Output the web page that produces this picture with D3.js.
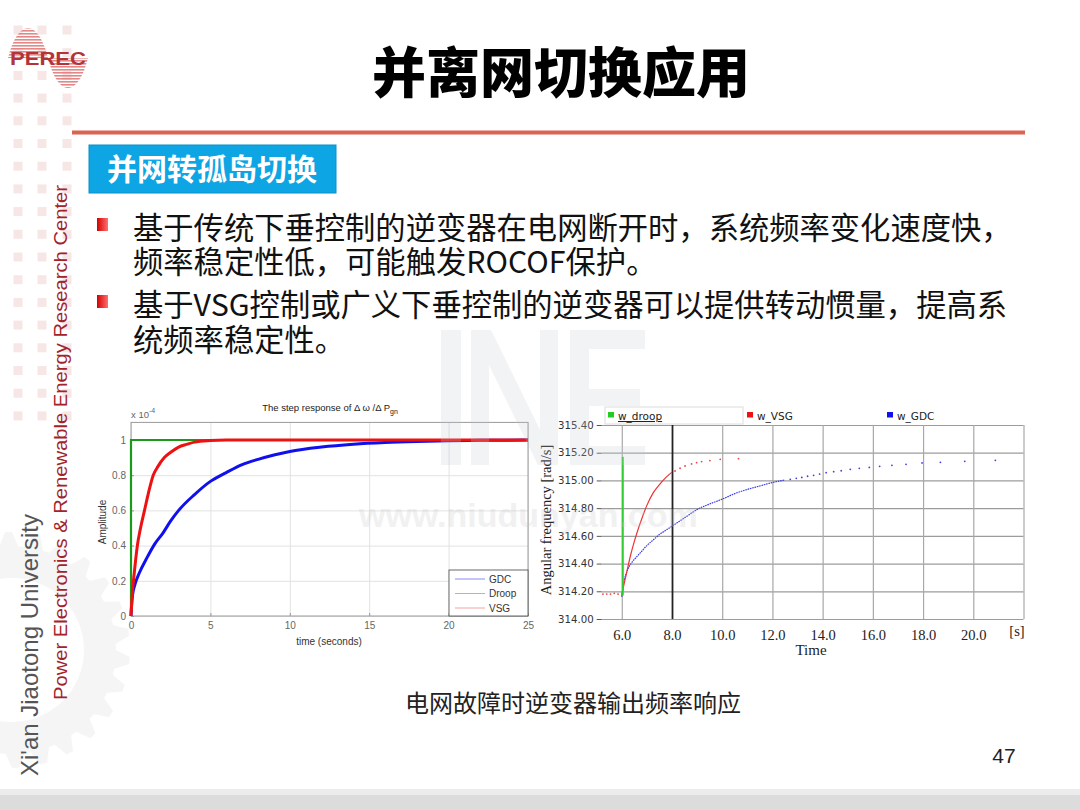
<!DOCTYPE html>
<html><head><meta charset="utf-8">
<script src="https://cdn.jsdelivr.net/npm/d3@7"></script>
<style>body{margin:0;background:#fff}svg{display:block}</style>
</head><body><svg id="c" width="1080" height="810"></svg>
<script>
// ---------------- DATA ----------------
const slideTitle = "并离网切换应用";
const sectionLabel = "并网转孤岛切换";
const bulletLines = [
  ["基于传统下垂控制的逆变器在电网断开时，系统频率变化速度快，", "频率稳定性低，可能触发ROCOF保护。"],
  ["基于VSG控制或广义下垂控制的逆变器可以提供转动惯量，提高系", "统频率稳定性。"]
];
const captionText = "电网故障时逆变器输出频率响应";
const pageNumber = "47";

// Left chart: step response (amplitude x 1e-4)
const stepTicksX = [0, 5, 10, 15, 20, 25];
const stepTicksY = [0, 0.2, 0.4, 0.6, 0.8, 1];
const stepTickLabelsY = ["0", "0.2", "0.4", "0.6", "0.8", "1"];
const stepSeries = ["GDC", "Droop", "VSG"];
const gdcTime = [0, 0.05, 0.1, 0.25, 0.5, 1, 1.5, 2, 2.5, 3, 4, 5, 6, 7, 8, 9, 10, 12, 14, 16, 18, 20, 22, 25];
const gdcAmp  = [0, 0.08, 0.12, 0.18, 0.24, 0.33, 0.41, 0.47, 0.54, 0.6, 0.69, 0.765, 0.815, 0.86, 0.89, 0.915, 0.935, 0.96, 0.976, 0.986, 0.992, 0.996, 0.998, 1.0];
const droopTime = [0, 0, 25];
const droopAmp  = [0, 1, 1];
const vsgTime = [0, 0.1, 0.2, 0.4, 0.6, 0.85, 1.1, 1.4, 1.7, 2.1, 2.5, 3, 3.5, 4, 5, 6, 25];
const vsgAmp  = [0, 0.15, 0.24, 0.4, 0.5, 0.6, 0.7, 0.8, 0.85, 0.9, 0.93, 0.96, 0.975, 0.988, 0.997, 1, 1];

// Right chart: angular frequency [rad/s] vs time [s]
const freqTicksX = [6, 8, 10, 12, 14, 16, 18, 20];
const freqTicksY = [314.0, 314.2, 314.4, 314.6, 314.8, 315.0, 315.2, 315.4];
const freqSeries = ["w_droop", "w_VSG", "w_GDC"];
const droopFreqTime = [6.0, 6.0];
const droopFreqW    = [314.17, 315.17];
const vsgPreTime = [5.25, 5.4, 5.55, 5.7, 5.85];
const vsgPreW    = [314.18, 314.18, 314.18, 314.185, 314.18];
const vsgFreqTime = [6.0, 6.1, 6.2, 6.35, 6.5, 6.75, 7.0, 7.25, 7.5, 7.75, 8.0];
const vsgFreqW    = [314.17, 314.26, 314.34, 314.46, 314.56, 314.70, 314.82, 314.91, 314.97, 315.02, 315.06];
const vsgDotTime = [8.12, 8.32, 8.52, 8.78, 8.98, 9.18, 9.51, 9.92, 10.65];
const vsgDotW    = [315.068, 315.088, 315.104, 315.119, 315.128, 315.136, 315.143, 315.152, 315.157];
const gdcFreqTime = [6.0, 6.04, 6.1, 6.2, 6.3, 6.45, 6.6, 6.8, 7.0, 7.25, 7.5, 7.75, 8.0, 8.5, 9.0, 9.5, 10.0, 10.5, 11.0, 11.5, 12.0, 12.5];
const gdcFreqW    = [314.16, 314.22, 314.28, 314.34, 314.38, 314.42, 314.45, 314.49, 314.53, 314.57, 314.61, 314.64, 314.67, 314.73, 314.79, 314.83, 314.865, 314.905, 314.935, 314.96, 314.985, 315.003];
const gdcDotTime = [12.71, 12.95, 13.17, 13.40, 13.64, 13.88, 14.14, 14.44, 14.74, 15.10, 15.46, 15.86, 16.27, 16.76, 17.32, 17.96, 18.69, 19.66, 20.88];
const gdcDotW    = [315.008, 315.015, 315.022, 315.030, 315.037, 315.046, 315.056, 315.063, 315.070, 315.080, 315.087, 315.094, 315.102, 315.109, 315.116, 315.126, 315.131, 315.138, 315.145];

// ---------------- DRAW ----------------
const svg = d3.select("#c");
const CJK = "'Noto Sans CJK SC', 'Noto Sans', sans-serif";
const zip = (a, b) => a.map((v, i) => [v, b[i]]);

const defs = svg.append("defs");
const pat = defs.append("pattern").attr("id", "stripes").attr("patternUnits", "userSpaceOnUse")
  .attr("width", 6).attr("height", 3);
pat.append("rect").attr("width", 6).attr("height", 1.6).attr("fill", "#e07a7a");
const bg = defs.append("linearGradient").attr("id", "bul");
bg.append("stop").attr("offset", "0").attr("stop-color", "#d40000");
bg.append("stop").attr("offset", "1").attr("stop-color", "#ff7070");

// ---- background decorations ----
const deco = svg.append("g");
const sqCols = [18, 42, 67];
const sqRows = d3.range(30, 420, 22.7);
sqRows.forEach(r => sqCols.forEach(c => {
  deco.append("rect").attr("x", c - 4.5).attr("y", r - 4.5).attr("width", 9).attr("height", 9).attr("fill", "#f7e6e6");
}));
(function () {
  const cx = 12, cy = 650, ro = 118, ri = 104, n = 26;
  const p = d3.path();
  for (let i = 0; i < n; i++) {
    const a0 = (i / n) * 2 * Math.PI, a1 = ((i + 0.25) / n) * 2 * Math.PI,
          a2 = ((i + 0.5) / n) * 2 * Math.PI, a3 = ((i + 0.75) / n) * 2 * Math.PI;
    const pt = (r, a) => [cx + r * Math.cos(a), cy + r * Math.sin(a)];
    if (i === 0) p.moveTo(...pt(ri, a0)); else p.lineTo(...pt(ri, a0));
    p.lineTo(...pt(ro, a1)); p.lineTo(...pt(ro, a2)); p.lineTo(...pt(ri, a3));
  }
  p.closePath();
  p.moveTo(cx + 72, cy); p.arc(cx, cy, 72, 0, 2 * Math.PI);
  deco.append("path").attr("d", p.toString()).attr("fill", "#9a9a9a").attr("fill-rule", "evenodd").attr("opacity", 0.1);
})();
deco.append("rect").attr("x", 0).attr("y", 789).attr("width", 1080).attr("height", 6).attr("fill", "#ececec");
deco.append("rect").attr("x", 0).attr("y", 795).attr("width", 1080).attr("height", 15).attr("fill", "#dcdcdc");

// logo
const logo = svg.append("g");
logo.append("path").attr("d", "M8,58 C18,18 38,18 48,58 C58,98 78,98 88,58 Z").attr("fill", "url(#stripes)").attr("opacity", 0.9);
logo.append("text").attr("x", 10).attr("y", 65).attr("textLength", 76).attr("lengthAdjust", "spacingAndGlyphs")
  .attr("font-family", "'Liberation Sans', Arial, sans-serif").attr("font-weight", "bold").attr("font-size", 18)
  .attr("fill", "#b3333a").text("PEREC");

// vertical texts
svg.append("text").attr("transform", "translate(38,776) rotate(-90)")
  .attr("font-family", "'Liberation Sans', Arial, sans-serif").attr("font-size", 24).attr("fill", "#555")
  .text("Xi'an Jiaotong University");
svg.append("text").attr("transform", "translate(67,700) rotate(-90)")
  .attr("font-family", "'Liberation Sans', Arial, sans-serif").attr("font-size", 18.2).attr("fill", "#a3232a")
  .attr("textLength", 515).attr("lengthAdjust", "spacingAndGlyphs")
  .text("Power Electronics & Renewable Energy Research Center");

// title
svg.append("text").attr("x", 561).attr("y", 93).attr("text-anchor", "middle")
  .attr("font-family", CJK).attr("font-weight", 900).attr("font-size", 54).attr("fill", "#000").text(slideTitle);
svg.append("rect").attr("x", 72).attr("y", 130.5).attr("width", 953).attr("height", 4).attr("fill", "#dc6252");
svg.append("rect").attr("x", 89).attr("y", 145).attr("width", 247).attr("height", 48).attr("fill", "#0ea5e4")
  .attr("stroke", "#0b90c8").attr("stroke-width", 1);
svg.append("text").attr("x", 212).attr("y", 180).attr("text-anchor", "middle")
  .attr("font-family", CJK).attr("font-weight", "bold").attr("font-size", 30).attr("fill", "#fff").text(sectionLabel);

// bullets
const bulletBase = [[239, 273], [316, 351]];
bulletLines.forEach((lines, i) => {
  svg.append("rect").attr("x", 97).attr("y", bulletBase[i][0] - 21).attr("width", 11).attr("height", 13).attr("fill", "url(#bul)");
  lines.forEach((ln, j) => {
    svg.append("text").attr("x", 133).attr("y", bulletBase[i][j]).attr("font-family", CJK)
      .attr("font-size", 30.3).attr("fill", "#111").text(ln);
  });
});

// ---------- LEFT CHART ----------
(function () {
  const L = 131, R = 528, T = 422.4, B = 616;
  const x = d3.scaleLinear().domain([0, 25]).range([L, R]);
  const y = d3.scaleLinear().domain([0, 1.1]).range([B, T]);
  const g = svg.append("g").attr("font-family", "'Liberation Sans', Arial, sans-serif");
  g.append("g").attr("transform", `translate(0,${B})`)
    .call(d3.axisBottom(x).tickValues(stepTicksX).tickSize(-(B - T)).tickFormat(""))
    .call(a => a.select(".domain").remove())
    .call(a => a.selectAll("line").attr("stroke", "#e2e2e2"));
  g.append("g").attr("transform", `translate(${L},0)`)
    .call(d3.axisLeft(y).tickValues(stepTicksY).tickSize(-(R - L)).tickFormat(""))
    .call(a => a.select(".domain").remove())
    .call(a => a.selectAll("line").attr("stroke", "#e2e2e2"));
  g.append("rect").attr("x", L).attr("y", T).attr("width", R - L).attr("height", B - T)
    .attr("fill", "none").attr("stroke", "#9a9a9a").attr("stroke-width", 1);
  g.append("g").attr("transform", `translate(0,${B})`)
    .call(d3.axisBottom(x).tickValues(stepTicksX).tickSize(-3).tickPadding(6))
    .call(a => a.select(".domain").remove())
    .call(a => a.selectAll("line").attr("stroke", "#9a9a9a"))
    .call(a => a.selectAll("text").attr("fill", "#666").attr("font-size", 10).attr("font-family", "'Liberation Sans', Arial, sans-serif"));
  g.append("g").attr("transform", `translate(${L},0)`)
    .call(d3.axisLeft(y).tickValues(stepTicksY).tickFormat((d, i) => stepTickLabelsY[i]).tickSize(-3).tickPadding(5))
    .call(a => a.select(".domain").remove())
    .call(a => a.selectAll("line").attr("stroke", "#9a9a9a"))
    .call(a => a.selectAll("text").attr("fill", "#666").attr("font-size", 10).attr("font-family", "'Liberation Sans', Arial, sans-serif"));
  const line = d3.line().x(d => x(d[0])).y(d => y(d[1]));
  const smooth = d3.line().x(d => x(d[0])).y(d => y(d[1])).curve(d3.curveMonotoneX);
  g.append("path").attr("d", smooth(zip(gdcTime, gdcAmp))).attr("fill", "none").attr("stroke", "#1010ee").attr("stroke-width", 3);
  g.append("path").attr("d", line(zip(droopTime, droopAmp))).attr("fill", "none").attr("stroke", "#1a9a1a").attr("stroke-width", 2.2);
  g.append("path").attr("d", smooth(zip(vsgTime, vsgAmp))).attr("fill", "none").attr("stroke", "#ee1111").attr("stroke-width", 3);
  const lg = g.append("g");
  lg.append("rect").attr("x", 449).attr("y", 570).attr("width", 79).attr("height", 46).attr("fill", "#fff").attr("stroke", "#444").attr("stroke-width", 0.8);
  const lcol = ["#8a8af5", "#8fd08f", "#f5a0a0"];
  stepSeries.forEach((s, i) => {
    const yy = 579 + i * 14.5;
    lg.append("line").attr("x1", 455).attr("x2", 485).attr("y1", yy).attr("y2", yy).attr("stroke", lcol[i]).attr("stroke-width", 1);
    lg.append("text").attr("x", 489).attr("y", yy + 3.5).attr("font-size", 10).attr("fill", "#333").text(s);
  });
  const t = g.append("text").attr("x", 330).attr("y", 411).attr("text-anchor", "middle").attr("font-size", 9.5).attr("fill", "#222");
  t.append("tspan").text("The step response of Δ ω /Δ P");
  t.append("tspan").attr("dy", 3).attr("font-size", 7).text("gn");
  const ex = g.append("text").attr("x", 131).attr("y", 418).attr("font-size", 9.5).attr("fill", "#666");
  ex.append("tspan").text("x 10");
  ex.append("tspan").attr("dy", -5).attr("font-size", 7).text("-4");
  g.append("text").attr("x", 329).attr("y", 645).attr("text-anchor", "middle").attr("font-size", 10).attr("fill", "#333").text("time (seconds)");
  g.append("text").attr("transform", "translate(106,522) rotate(-90)").attr("text-anchor", "middle").attr("font-size", 10).attr("fill", "#333").text("Amplitude");
})();

// ---------- RIGHT CHART ----------
(function () {
  const L = 601.7, R = 1023.5, T = 425, B = 619;
  const x = d3.scaleLinear().domain([5.2, 22]).range([L, R]);
  const y = d3.scaleLinear().domain([314.0, 315.4]).range([B, T]);
  const g = svg.append("g");
  g.append("g").attr("transform", `translate(${L},0)`)
    .call(d3.axisLeft(y).tickValues(freqTicksY).tickSize(-(R - L)).tickFormat(""))
    .call(a => a.select(".domain").remove())
    .call(a => a.selectAll("line").attr("stroke", "#9c9c9c").attr("stroke-width", 1.2));
  g.append("g").attr("transform", `translate(0,${B})`)
    .call(d3.axisBottom(x).tickValues(freqTicksX.concat([22])).tickSize(-(B - T)).tickFormat(""))
    .call(a => a.select(".domain").remove())
    .call(a => a.selectAll("line").attr("stroke", d => d === 8 ? "#222" : "#a8a8a8").attr("stroke-width", d => d === 8 ? 1.8 : 1.2));
  g.append("g").attr("transform", `translate(${L},0)`)
    .call(d3.axisLeft(y).tickValues(freqTicksY).tickFormat(d3.format(".2f")).tickSize(5).tickPadding(3))
    .call(a => a.select(".domain").remove())
    .call(a => a.selectAll("line").attr("stroke", "#555"))
    .call(a => a.selectAll("text").attr("fill", "#333").attr("font-size", 10.2).attr("font-family", "'DejaVu Sans', Verdana, sans-serif"));
  g.append("g").attr("transform", `translate(0,${B})`)
    .call(d3.axisBottom(x).tickValues(freqTicksX).tickFormat(d3.format(".1f")).tickSize(0).tickPadding(11))
    .call(a => a.select(".domain").remove())
    .call(a => a.selectAll("text").attr("fill", "#222").attr("font-size", 14.5).attr("font-family", "'Liberation Serif', 'Times New Roman', serif"));
  const serif = "'Liberation Serif', 'Times New Roman', serif";
  g.append("text").attr("x", 1017).attr("y", 636).attr("text-anchor", "middle").attr("font-family", serif).attr("font-size", 14.5).attr("fill", "#222").text("[s]");
  g.append("text").attr("x", 811).attr("y", 655).attr("text-anchor", "middle").attr("font-family", serif).attr("font-size", 15).attr("fill", "#222").text("Time");
  g.append("text").attr("transform", "translate(551,520) rotate(-90)").attr("text-anchor", "middle").attr("font-family", serif).attr("font-size", 14.5).attr("fill", "#222").text("Angular frequency [rad/s]");
  const line = d3.line().x(d => x(d[0])).y(d => y(d[1])).curve(d3.curveMonotoneX);
  g.append("path").attr("d", line(zip(gdcFreqTime, gdcFreqW))).attr("fill", "none").attr("stroke", "#3a3ae8").attr("stroke-width", 1.2).attr("stroke-dasharray", "1.6,0.8");
  g.selectAll(".gd").data(zip(gdcDotTime, gdcDotW)).join("circle").attr("cx", d => x(d[0])).attr("cy", d => y(d[1])).attr("r", 0.9).attr("fill", "#4040e0");
  g.append("path").attr("d", line(zip(vsgFreqTime, vsgFreqW))).attr("fill", "none").attr("stroke", "#ee3333").attr("stroke-width", 1.2);
  g.selectAll(".vd").data(zip(vsgDotTime, vsgDotW).concat(zip(vsgPreTime, vsgPreW))).join("circle").attr("cx", d => x(d[0])).attr("cy", d => y(d[1])).attr("r", 0.9).attr("fill", "#ee4444");
  g.append("path").attr("d", d3.line().x(d => x(d[0]) + 1).y(d => y(d[1]))(zip(droopFreqTime, droopFreqW))).attr("fill", "none").attr("stroke", "#33cc33").attr("stroke-width", 2);
  const lc = ["#22cc22", "#ee1111", "#1111ee"];
  const lx = [608, 747, 887];
  g.append("rect").attr("x", 605).attr("y", 407).attr("width", 138).attr("height", 17).attr("fill", "#fff").attr("stroke", "#dcdcdc");
  freqSeries.forEach((s, i) => {
    g.append("rect").attr("x", lx[i]).attr("y", 412).attr("width", 6).attr("height", 5.5).attr("fill", lc[i]);
    g.append("text").attr("x", lx[i] + 10).attr("y", 420).attr("font-family", "'DejaVu Sans', Verdana, sans-serif")
      .attr("font-size", 10.5).attr("fill", "#222").attr("text-decoration", i === 0 ? "underline" : null).text(s);
  });
})();

// caption & page number
svg.append("text").attr("x", 573).attr("y", 712).attr("text-anchor", "middle").attr("font-family", CJK)
  .attr("font-size", 24).attr("fill", "#222").text(captionText);
svg.append("text").attr("x", 1004).attr("y", 763).attr("text-anchor", "middle")
  .attr("font-family", "'Liberation Sans Narrow', 'Liberation Sans', Arial, sans-serif").attr("font-size", 21).attr("fill", "#222").text(pageNumber);

// watermarks (INE logo drawn as shapes)
const wm = svg.append("g").attr("fill", "#c4cad4").attr("opacity", 0.22);
wm.append("rect").attr("x", 441).attr("y", 330).attr("width", 20).attr("height", 135);
wm.append("path").attr("d", "M471,330 L491,330 L540,430 L540,330 L558,330 L558,465 L538,465 L489,365 L489,465 L471,465 Z");
wm.append("path").attr("d", "M570,330 L645,330 L645,349 L589,349 L589,389 L640,389 L640,406 L589,406 L589,446 L645,446 L645,465 L570,465 Z");
svg.append("text").attr("x", 359).attr("y", 527).attr("font-family", "'Liberation Sans', Arial, sans-serif")
  .attr("font-weight", "bold").attr("font-size", 34).attr("fill", "#c8c8c8").attr("opacity", 0.25).text("www.niudunyan.com");
</script></body></html>
